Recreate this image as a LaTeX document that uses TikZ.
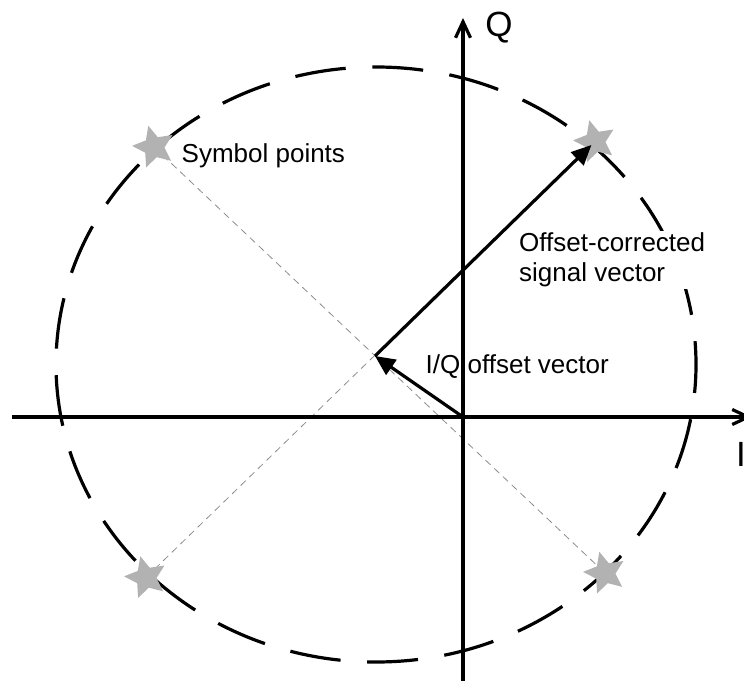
\documentclass[tikz,border=0pt]{standalone}
\usepackage{fontspec}
\setmainfont{Liberation Sans}
\usetikzlibrary{arrows.meta,shapes.geometric}
\definecolor{symgray}{HTML}{B2B2B2}
\definecolor{guidegray}{HTML}{8C8C8C}

\begin{document}
\begin{tikzpicture}[x=1pt,y=-1pt,
axis/.style={line width=3.2pt,-{Straight Barb[length=16pt,width=15pt]}},
vec/.style={line width=3.2pt,-{Triangle[length=20pt,width=18pt]}},
ring/.style={line width=3.2pt,dash pattern=on 51pt off 26.6pt,dash phase=22.5pt},
guide/.style={draw=guidegray,line width=0.8pt,dash pattern=on 7pt off 5pt},
sym/.style={star,star points=5,star point ratio=2.1,fill=symgray,minimum size=44pt,inner sep=0pt,rotate=15},
lbl/.style={inner sep=0pt,font=\fontsize{26}{30}\selectfont,align=left},
axlbl/.style={inner sep=0pt,font=\fontsize{35}{35}\selectfont}]
\useasboundingbox (0,0) rectangle (744,680);
% symbol points and offset point
\coordinate (pTL) at (154,147);\coordinate (pTR) at (595,141.5);
\coordinate (pBL) at (146,577.5);\coordinate (pBR) at (605,573);
\coordinate (off) at (375,356);
\draw[guide] (pTL) -- (pBR);\draw[guide] (pBL) -- (pTR);
\draw[ring] (376,364.5) ellipse [x radius=320,y radius=297.5];
% axes
\coordinate (O) at (463,417);
\coordinate (xL) at (12,417);\coordinate (xR) at (752,417);
\coordinate (yB) at (463,684);\coordinate (yT) at (463,18);
\draw[axis] (xL) -- (xR);\draw[axis] (yB) -- (yT);
\node[axlbl,anchor=base] (qlab) at (499,36) {Q};
\node[axlbl,anchor=base west] (ilab) at (736,466) {I};
% stars
\node[sym] (sTL) at (pTL) {};\node[sym] (sTR) at (pTR) {};
\node[sym] (sBL) at (pBL) {};\node[sym] (sBR) at (pBR) {};
% vectors
\draw[vec] (O) -- (off);
\draw[vec,shorten >=5pt] (off) -- (sTR.center);
\node[lbl,anchor=base west] (symlab) at (181.5,162) {Symbol points};
\node[lbl,anchor=base west,fill=white,inner sep=2pt] (siglab) at (517,281.5) {Offset-corrected\\signal vector};
\node[lbl,anchor=base west] (offlab) at (425.5,373) {I/Q offset vector};
\end{tikzpicture}
\end{document}
